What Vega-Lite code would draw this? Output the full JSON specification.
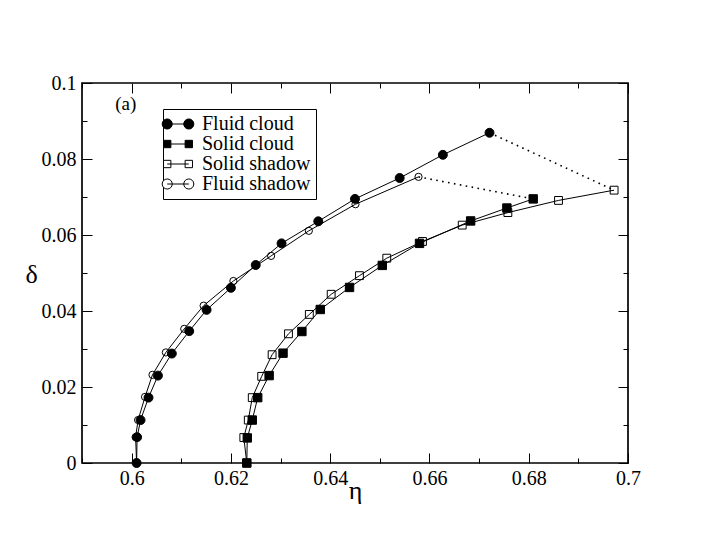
{
  "$schema": "https://vega.github.io/schema/vega-lite/v6.json",
  "width": 546,
  "height": 380,
  "autosize": {"type": "none"},
  "padding": {"left": 82, "top": 83, "right": 78, "bottom": 83},
  "background": "white",
  "config": {
    "view": {"stroke": "black", "strokeWidth": 1.7},
    "font": "Liberation Serif"
  },
  "data": {
    "values": [
      {"s": "Fluid cloud", "i": 0, "eta": 0.6010, "delta": 0.0},
      {"s": "Fluid cloud", "i": 1, "eta": 0.6011, "delta": 0.0068},
      {"s": "Fluid cloud", "i": 2, "eta": 0.6018, "delta": 0.0113},
      {"s": "Fluid cloud", "i": 3, "eta": 0.6034, "delta": 0.0172},
      {"s": "Fluid cloud", "i": 4, "eta": 0.6053, "delta": 0.0230},
      {"s": "Fluid cloud", "i": 5, "eta": 0.6081, "delta": 0.0288},
      {"s": "Fluid cloud", "i": 6, "eta": 0.6116, "delta": 0.0347},
      {"s": "Fluid cloud", "i": 7, "eta": 0.6151, "delta": 0.0403},
      {"s": "Fluid cloud", "i": 8, "eta": 0.6200, "delta": 0.0461},
      {"s": "Fluid cloud", "i": 9, "eta": 0.6250, "delta": 0.0521},
      {"s": "Fluid cloud", "i": 10, "eta": 0.6302, "delta": 0.0578},
      {"s": "Fluid cloud", "i": 11, "eta": 0.6376, "delta": 0.0636},
      {"s": "Fluid cloud", "i": 12, "eta": 0.6450, "delta": 0.0695},
      {"s": "Fluid cloud", "i": 13, "eta": 0.6540, "delta": 0.0750},
      {"s": "Fluid cloud", "i": 14, "eta": 0.6627, "delta": 0.0811},
      {"s": "Fluid cloud", "i": 15, "eta": 0.6721, "delta": 0.0869},
      {"s": "Fluid shadow", "i": 0, "eta": 0.6010, "delta": 0.0},
      {"s": "Fluid shadow", "i": 1, "eta": 0.6008, "delta": 0.0068},
      {"s": "Fluid shadow", "i": 2, "eta": 0.6013, "delta": 0.0113},
      {"s": "Fluid shadow", "i": 3, "eta": 0.6027, "delta": 0.0174},
      {"s": "Fluid shadow", "i": 4, "eta": 0.6042, "delta": 0.0232},
      {"s": "Fluid shadow", "i": 5, "eta": 0.6069, "delta": 0.0291},
      {"s": "Fluid shadow", "i": 6, "eta": 0.6106, "delta": 0.0353},
      {"s": "Fluid shadow", "i": 7, "eta": 0.6145, "delta": 0.0414},
      {"s": "Fluid shadow", "i": 8, "eta": 0.6205, "delta": 0.0479},
      {"s": "Fluid shadow", "i": 9, "eta": 0.6281, "delta": 0.0545},
      {"s": "Fluid shadow", "i": 10, "eta": 0.6357, "delta": 0.0611},
      {"s": "Fluid shadow", "i": 11, "eta": 0.6451, "delta": 0.0681},
      {"s": "Fluid shadow", "i": 12, "eta": 0.6578, "delta": 0.0753},
      {"s": "Solid cloud", "i": 0, "eta": 0.6232, "delta": 0.0},
      {"s": "Solid cloud", "i": 1, "eta": 0.6233, "delta": 0.0066},
      {"s": "Solid cloud", "i": 2, "eta": 0.6243, "delta": 0.0113},
      {"s": "Solid cloud", "i": 3, "eta": 0.6254, "delta": 0.0172},
      {"s": "Solid cloud", "i": 4, "eta": 0.6277, "delta": 0.0230},
      {"s": "Solid cloud", "i": 5, "eta": 0.6305, "delta": 0.0289},
      {"s": "Solid cloud", "i": 6, "eta": 0.6343, "delta": 0.0346},
      {"s": "Solid cloud", "i": 7, "eta": 0.6380, "delta": 0.0404},
      {"s": "Solid cloud", "i": 8, "eta": 0.6439, "delta": 0.0462},
      {"s": "Solid cloud", "i": 9, "eta": 0.6505, "delta": 0.0520},
      {"s": "Solid cloud", "i": 10, "eta": 0.6580, "delta": 0.0578},
      {"s": "Solid cloud", "i": 11, "eta": 0.6683, "delta": 0.0637},
      {"s": "Solid cloud", "i": 12, "eta": 0.6756, "delta": 0.0671},
      {"s": "Solid cloud", "i": 13, "eta": 0.6809, "delta": 0.0695},
      {"s": "Solid shadow", "i": 0, "eta": 0.6232, "delta": 0.0},
      {"s": "Solid shadow", "i": 1, "eta": 0.6226, "delta": 0.0067},
      {"s": "Solid shadow", "i": 2, "eta": 0.6235, "delta": 0.0113},
      {"s": "Solid shadow", "i": 3, "eta": 0.6243, "delta": 0.0172},
      {"s": "Solid shadow", "i": 4, "eta": 0.6262, "delta": 0.0228},
      {"s": "Solid shadow", "i": 5, "eta": 0.6283, "delta": 0.0285},
      {"s": "Solid shadow", "i": 6, "eta": 0.6316, "delta": 0.0340},
      {"s": "Solid shadow", "i": 7, "eta": 0.6358, "delta": 0.0391},
      {"s": "Solid shadow", "i": 8, "eta": 0.6402, "delta": 0.0444},
      {"s": "Solid shadow", "i": 9, "eta": 0.6459, "delta": 0.0493},
      {"s": "Solid shadow", "i": 10, "eta": 0.6514, "delta": 0.0539},
      {"s": "Solid shadow", "i": 11, "eta": 0.6586, "delta": 0.0583},
      {"s": "Solid shadow", "i": 12, "eta": 0.6666, "delta": 0.0626},
      {"s": "Solid shadow", "i": 13, "eta": 0.6758, "delta": 0.0659},
      {"s": "Solid shadow", "i": 14, "eta": 0.6860, "delta": 0.0691},
      {"s": "Solid shadow", "i": 15, "eta": 0.6972, "delta": 0.0718},
      {"s": "tie1", "i": 0, "eta": 0.6721, "delta": 0.0869},
      {"s": "tie1", "i": 1, "eta": 0.6972, "delta": 0.0718},
      {"s": "tie2", "i": 0, "eta": 0.6578, "delta": 0.0753},
      {"s": "tie2", "i": 1, "eta": 0.6809, "delta": 0.0695},
      {"s": "label", "i": 0, "eta": 0.5988, "delta": 0.0945}
    ]
  },
  "layer": [
    {
      "transform": [{"filter": "indexof(['Fluid cloud','Fluid shadow','Solid cloud','Solid shadow'], datum.s) >= 0"}],
      "mark": {"type": "line", "color": "black", "strokeWidth": 1},
      "encoding": {
        "x": {
          "field": "eta", "type": "quantitative",
          "scale": {"domain": [0.59, 0.7], "nice": false, "zero": false},
          "axis": {
            "orient": "bottom",
            "values": [0.59, 0.6, 0.61, 0.62, 0.63, 0.64, 0.65, 0.66, 0.67, 0.68, 0.69, 0.7],
            "labelExpr": "round(datum.value*100) % 2 == 0 ? format(datum.value, '~g') : ''",
            "title": "η",
            "domain": false, "grid": false,
            "tickColor": "black", "tickWidth": 1,
            "tickSize": {"condition": {"test": "round(datum.value*100) % 2 == 0", "value": -10}, "value": -5},
            "labelPadding": 15, "labelFlush": false, "labelOverlap": false,
            "labelFont": "Liberation Serif", "labelFontSize": 20, "labelColor": "black",
            "titleFont": "Liberation Serif", "titleFontSize": 26, "titleFontWeight": "normal", "titleColor": "black",
            "titleX": 273, "titleY": 35, "titleBaseline": "alphabetic", "titleAlign": "center"
          }
        },
        "y": {
          "field": "delta", "type": "quantitative",
          "scale": {"domain": [0, 0.1], "nice": false, "zero": false},
          "axis": {
            "orient": "left",
            "values": [0, 0.01, 0.02, 0.03, 0.04, 0.05, 0.06, 0.07, 0.08, 0.09, 0.1],
            "labelExpr": "round(datum.value*100) % 2 == 0 ? format(datum.value, '~g') : ''",
            "title": "δ",
            "domain": false, "grid": false,
            "tickColor": "black", "tickWidth": 1,
            "tickSize": {"condition": {"test": "round(datum.value*100) % 2 == 0", "value": -10}, "value": -5},
            "labelPadding": 16, "labelFlush": false, "labelOverlap": false,
            "labelFont": "Liberation Serif", "labelFontSize": 20, "labelColor": "black",
            "titleFont": "Liberation Serif", "titleFontSize": 26, "titleFontWeight": "normal", "titleColor": "black",
            "titleAngle": 0, "titleX": -51, "titleY": 199, "titleBaseline": "alphabetic", "titleAlign": "center"
          }
        },
        "detail": {"field": "s"},
        "order": {"field": "i"}
      }
    },
    {
      "transform": [{"filter": "datum.s == 'tie1' || datum.s == 'tie2'"}],
      "mark": {"type": "line", "color": "black", "strokeWidth": 1.6, "strokeDash": [1.6, 4.4]},
      "encoding": {
        "x": {
          "field": "eta", "type": "quantitative",
          "axis": {
            "orient": "top",
            "values": [0.59, 0.6, 0.61, 0.62, 0.63, 0.64, 0.65, 0.66, 0.67, 0.68, 0.69, 0.7],
            "labels": false, "title": null, "domain": false, "grid": false,
            "tickColor": "black", "tickWidth": 1,
            "tickSize": {"condition": {"test": "round(datum.value*100) % 2 == 0", "value": -10}, "value": -5}
          }
        },
        "y": {
          "field": "delta", "type": "quantitative",
          "axis": {
            "orient": "right",
            "values": [0, 0.01, 0.02, 0.03, 0.04, 0.05, 0.06, 0.07, 0.08, 0.09, 0.1],
            "labels": false, "title": null, "domain": false, "grid": false,
            "tickColor": "black", "tickWidth": 1,
            "tickSize": {"condition": {"test": "round(datum.value*100) % 2 == 0", "value": -10}, "value": -5}
          }
        },
        "detail": {"field": "s"},
        "order": {"field": "i"}
      }
    },
    {
      "transform": [{"filter": "indexof(['Fluid cloud','Fluid shadow','Solid cloud','Solid shadow'], datum.s) >= 0"}],
      "mark": {"type": "point", "stroke": "black", "strokeWidth": 1, "opacity": 1},
      "encoding": {
        "x": {"field": "eta", "type": "quantitative", "axis": null},
        "y": {"field": "delta", "type": "quantitative", "axis": null},
        "shape": {"field": "s", "scale": {"domain": ["Fluid cloud", "Solid cloud", "Solid shadow", "Fluid shadow"], "range": ["circle", "square", "square", "circle"]}, "legend": null},
        "fill": {"field": "s", "scale": {"domain": ["Fluid cloud", "Solid cloud", "Solid shadow", "Fluid shadow"], "range": ["black", "black", "transparent", "transparent"]}, "legend": null},
        "size": {"field": "s", "scale": {"domain": ["Fluid cloud", "Solid cloud", "Solid shadow", "Fluid shadow"], "range": [80, 52, 58, 85]}, "legend": null}
      }
    },
    {
      "transform": [{"filter": "datum.s == 'none'"}],
      "mark": {"type": "point", "stroke": "black", "strokeWidth": 1, "filled": true, "opacity": 1},
      "encoding": {
        "x": {"field": "eta", "type": "quantitative", "axis": null},
        "y": {"field": "delta", "type": "quantitative", "axis": null},
        "shape": {
          "field": "s",
          "scale": {
            "domain": ["Fluid cloud", "Solid cloud", "Solid shadow", "Fluid shadow"],
            "range": [
              "M-1.35,0L1.35,0M-1.98,0A0.63,0.63 0 1,0 -0.72,0A0.63,0.63 0 1,0 -1.98,0ZM0.72,0A0.63,0.63 0 1,0 1.98,0A0.63,0.63 0 1,0 0.72,0Z",
              "M-1.35,0L1.35,0M-1.81,-0.46H-0.89V0.46H-1.81ZM0.89,-0.46H1.81V0.46H0.89Z",
              "M-1.35,0L1.35,0M-1.81,-0.46H-0.89V0.46H-1.81ZM0.89,-0.46H1.81V0.46H0.89Z",
              "M-1.35,0L1.35,0M-1.98,0A0.63,0.63 0 1,0 -0.72,0A0.63,0.63 0 1,0 -1.98,0ZM0.72,0A0.63,0.63 0 1,0 1.98,0A0.63,0.63 0 1,0 0.72,0Z"
            ]
          },
          "legend": {
            "title": null, "orient": "none", "legendX": 81, "legendY": 26,
            "strokeColor": "black", "fillColor": "white", "padding": 5,
            "symbolSize": 256, "symbolStrokeColor": "black", "symbolStrokeWidth": 1, "symbolOpacity": 1,
            "labelFont": "Liberation Serif", "labelFontSize": 20, "labelColor": "black",
            "labelOffset": 14, "rowPadding": 0,
            "encode": {"symbols": {"update": {"stroke": {"value": "black"}, "strokeWidth": {"value": 1}, "opacity": {"value": 1}}}}
          }
        },
        "fill": {
          "field": "s",
          "scale": {"domain": ["Fluid cloud", "Solid cloud", "Solid shadow", "Fluid shadow"], "range": ["black", "black", "white", "white"]},
          "legend": {
            "title": null, "orient": "none", "legendX": 81, "legendY": 26,
            "strokeColor": "black", "fillColor": "white", "padding": 5,
            "symbolSize": 256, "symbolStrokeColor": "black", "symbolStrokeWidth": 1, "symbolOpacity": 1,
            "labelFont": "Liberation Serif", "labelFontSize": 20, "labelColor": "black",
            "labelOffset": 14, "rowPadding": 0,
            "encode": {"symbols": {"update": {"stroke": {"value": "black"}, "strokeWidth": {"value": 1}, "opacity": {"value": 1}}}}
          }
        }
      }
    },
    {
      "transform": [{"filter": "datum.s == 'label'"}],
      "mark": {"type": "text", "text": "(a)", "font": "Liberation Serif", "fontSize": 19, "align": "center", "baseline": "middle", "color": "black"},
      "encoding": {
        "x": {"field": "eta", "type": "quantitative", "axis": null},
        "y": {"field": "delta", "type": "quantitative", "axis": null}
      }
    }
  ],
  "resolve": {
    "axis": {"x": "independent", "y": "independent"},
    "scale": {"shape": "independent", "fill": "independent", "size": "independent"}
  }
}
